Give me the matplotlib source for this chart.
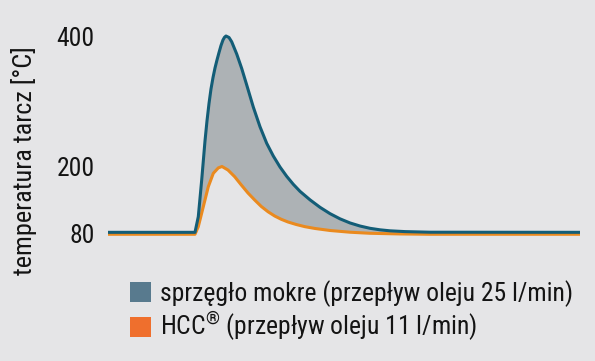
import numpy as np
import matplotlib
matplotlib.use("Agg")
import matplotlib.pyplot as plt
from matplotlib import font_manager, ticker
from matplotlib.patches import Patch

# ---- data ----
t_wet = [0, 18.43, 19.13, 19.85, 20.55, 20.97, 21.40, 21.82, 22.25, 22.67, 23.09, 23.52,
         23.94, 24.36, 24.68, 25.0, 25.64, 26.21, 27.27, 28.33, 29.39, 30.78, 32.20,
         33.62, 35.02, 36.44, 37.86, 39.26, 40.68, 42.80, 44.92, 47.03, 49.15, 51.27,
         53.39, 55.51, 57.63, 59.75, 62.92, 68.22, 100]
temp_wet = [82.1, 82.1, 110.1, 175.8, 239.1, 269.7, 296.6, 318.8, 336.4, 351.0, 363.2, 374.7,
            385.4, 393.9, 398.0, 400, 397.7, 391.1, 372.4, 350.2, 324.9, 291.2, 261.0,
            235.6, 216.1, 199.1, 182.4, 168.1, 155.5, 140.3, 126.9, 115.6, 106.3, 98.9,
            93.4, 89.3, 86.6, 84.8, 83.4, 82.3, 82.1]

t_hcc = [0, 18.43, 19.13, 20.19, 21.25, 22.31, 23.37, 24.15, 25.42, 26.84, 28.24, 29.66,
         31.08, 32.48, 33.90, 35.32, 36.72, 38.14, 39.89, 41.74, 43.86, 47.03, 51.27,
         55.51, 61.86, 68.22, 100]
temp_hcc = [78.6, 78.6, 92.2, 128.0, 163.8, 187.8, 197.5, 200, 193.7, 181.7, 166.9, 152.5,
            140.0, 128.4, 119.0, 111.3, 105.4, 100.6, 96.1, 92.2, 89.0, 85.4, 82.3,
            80.4, 79.2, 78.6, 78.6]

y_ticks = [80, 200, 400]
y_label = "temperatura tarcz [°C]"
legend_labels = ["sprzęgło mokre (przepływ oleju 25 l/min)",
                 r"HCC$^{\circledR}$ (przepływ oleju 11 l/min)"]

# ---- style ----
names = {f.name for f in font_manager.fontManager.ttflist}
family = "DejaVu Sans"
for cand in ["Roboto Condensed", "Archivo Narrow", "PT Sans Narrow",
             "Fira Sans Condensed", "Liberation Sans Narrow", "Liberation Sans"]:
    if cand in names:
        family = cand
        break
plt.rcParams['font.family'] = [family, 'DejaVu Sans']
plt.rcParams['mathtext.fontset'] = 'custom'
plt.rcParams['mathtext.rm'] = family
plt.rcParams['mathtext.it'] = family
plt.rcParams['mathtext.bf'] = family

BG = "#e5e5e7"
BLUE = "#135d77"
ORANGE = "#ea8a1f"
FILL = "#adb2b5"
LEG_BLUE = "#587a8e"
LEG_ORANGE = "#ef6f2d"
TXT = "#141414"

# piecewise linear (schematic) vertical scale, as in the original graphic
def fwd(y):
    y = np.asarray(y, dtype=float)
    return np.where(y < 200, (y - 80) * 67.0 / 120.0, 67.0 + (y - 200) * 130.5 / 200.0)

def inv(g):
    g = np.asarray(g, dtype=float)
    return np.where(g < 67, 80 + g * 120.0 / 67.0, 200 + (g - 67) * 200.0 / 130.5)

W, H = 595, 361
fig = plt.figure(figsize=(W / 100, H / 100), dpi=100)
fig.patch.set_facecolor(BG)
renderer = fig.canvas.get_renderer()

def fit_size(text, target_px, base=20.0):
    t = fig.text(0, 0, text, fontsize=base)
    w = t.get_window_extent(renderer).width
    t.remove()
    return base * target_px / w

fs_tick = fit_size("400", 38)
fs_ylab = fit_size(y_label, 228)
fs_leg = fit_size(legend_labels[0], 413)

ylo, yhi = 75, 410
g_lo = float(fwd(ylo)); g_hi = float(fwd(yhi))
base_px = 233.5
bottom_px = base_px - g_lo
top_px = base_px - g_hi
ax = fig.add_axes([108 / W, (H - bottom_px) / H, 472 / W, (bottom_px - top_px) / H])
ax.set_facecolor(BG)
ax.set_yscale('function', functions=(fwd, inv))
ax.set_xlim(0, 100)
ax.set_ylim(ylo, yhi)

xs = np.concatenate([t_wet, t_hcc[::-1]])
ys = np.concatenate([temp_wet, temp_hcc[::-1]])
ax.fill(xs, ys, color=FILL, lw=0, zorder=1)
ax.plot(t_hcc, temp_hcc, color=ORANGE, lw=2.2, solid_joinstyle='round',
        solid_capstyle='butt', zorder=2, clip_on=False)
ax.plot(t_wet, temp_wet, color=BLUE, lw=2.2, solid_joinstyle='round',
        solid_capstyle='butt', zorder=3, clip_on=False)

for s in ax.spines.values():
    s.set_visible(False)
ax.set_xticks([])
ax.set_yticks(y_ticks)
ax.set_yticklabels([str(v) for v in y_ticks])
ax.yaxis.set_minor_locator(ticker.NullLocator())
ax.tick_params(axis='y', length=0, pad=9.5, labelsize=fs_tick, labelcolor=TXT)

fig.text(24 / W, 1 - 161 / H, y_label, rotation=90, ha='center', va='center',
         fontsize=fs_ylab, color=TXT)

fs_px = fs_leg * 100 / 72
handles = [Patch(facecolor=LEG_BLUE, edgecolor='none'),
           Patch(facecolor=LEG_ORANGE, edgecolor='none')]
leg = fig.legend(handles, legend_labels, loc='upper left',
                 bbox_to_anchor=(130 / W, 1 - 280 / H), frameon=False,
                 fontsize=fs_leg, handlelength=21 / fs_px, handleheight=21 / fs_px,
                 handletextpad=9 / fs_px, labelspacing=(33.5 - 1.17 * fs_px) / fs_px,
                 borderpad=0, borderaxespad=0)
for txt in leg.get_texts():
    txt.set_color(TXT)

fig.savefig("out.png", dpi=100, facecolor=BG)
